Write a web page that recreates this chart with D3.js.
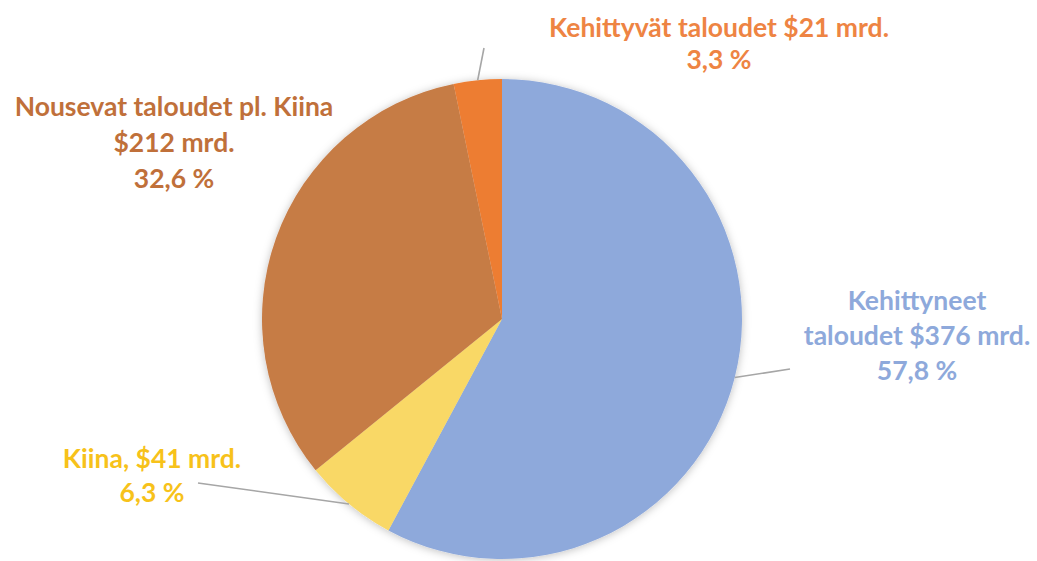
<!DOCTYPE html>
<html><head><meta charset="utf-8">
<script src="https://cdn.jsdelivr.net/npm/d3@7"></script>
<style>
html,body{margin:0;padding:0;background:#fff;}
svg text{font-family:Lato,"Open Sans",sans-serif;font-weight:700;}
</style></head>
<body>
<svg id="chart" width="1037" height="561"></svg>
<script>
const categories = ["Kehittyneet taloudet", "Kiina", "Nousevat taloudet pl. Kiina", "Kehittyvät taloudet"];
const values = [376, 41, 212, 21];            // mrd. $
const percents = ["57,8 %", "6,3 %", "32,6 %", "3,3 %"];
const labelLines = [
  ["Kehittyneet", "taloudet $376 mrd.", "57,8 %"],
  ["Kiina, $41 mrd.", "6,3 %"],
  ["Nousevat taloudet pl. Kiina", "$212 mrd.", "32,6 %"],
  ["Kehittyvät taloudet $21 mrd.", "3,3 %"]
];
const colors = ["#8EA9DB", "#F9D866", "#C67B45", "#ED7D31"];
const labelColors = ["#8EA9DB", "#F7C21A", "#C0703A", "#EE8443"];

const svg = d3.select("#chart");
const cx = 502, cy = 319, R = 240;

const defs = svg.append("defs");
const f = defs.append("filter").attr("id","sh").attr("x","-20%").attr("y","-20%").attr("width","140%").attr("height","140%");
f.append("feDropShadow").attr("dx",0).attr("dy",1).attr("stdDeviation",4).attr("flood-color","#000").attr("flood-opacity",0.25);

const pie = d3.pie().sort(null).value(d => d)(values);
const arc = d3.arc().innerRadius(0).outerRadius(R);

const g = svg.append("g").attr("transform", `translate(${cx},${cy})`);
g.append("g").attr("filter","url(#sh)")
  .selectAll("path").data(pie).join("path")
  .attr("d", arc).attr("fill", (d,i) => colors[i]);

// label layout (positions of text blocks)
const layout = [
  {x: 917, y: 310, dy: 35, line: [790, 369]},
  {x: 152, y: 468, dy: 34, line: [198, 483]},
  {x: 174, y: 116, dy: 36, line: null},
  {x: 719, y: 37, dy: 32, line: [484, 48]}
];

pie.forEach((d, i) => {
  const L = layout[i];
  if (L.line) {
    const a = (d.startAngle + d.endAngle) / 2;
    const sx = cx + R * Math.sin(a), sy = cy - R * Math.cos(a);
    svg.append("line").attr("x1", sx).attr("y1", sy).attr("x2", L.line[0]).attr("y2", L.line[1])
      .attr("stroke", "#A6A6A6").attr("stroke-width", 1.6);
  }
  const t = svg.append("text").attr("text-anchor", "middle").attr("fill", labelColors[i]).attr("font-size", 26.5);
  labelLines[i].forEach((s, k) => {
    t.append("tspan").attr("x", L.x).attr("y", L.y + k * L.dy).text(s);
  });
});
</script>
</body></html>
